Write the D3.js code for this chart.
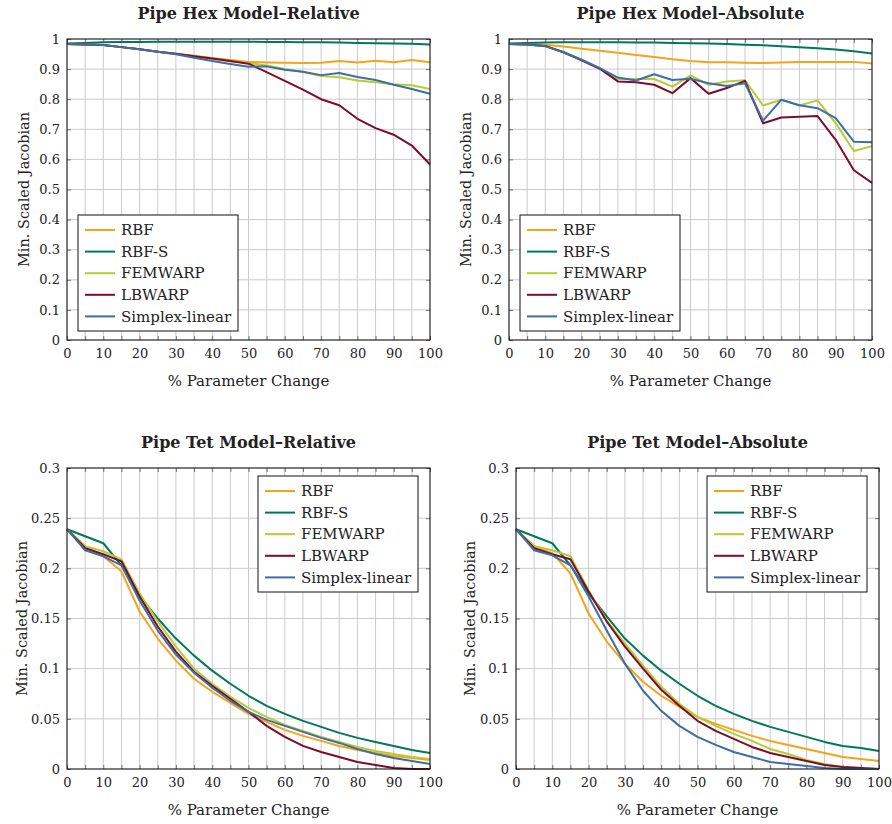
<!DOCTYPE html>
<html>
<head>
<meta charset="utf-8">
<script src="https://cdn.jsdelivr.net/npm/d3@7"></script>
<style>
    body { margin: 0; background: #fff; }
    text { font-family: "DejaVu Serif", serif; fill: #222; }
</style>
</head>
<body>
<script>
// x values (% parameter change)
const pct= [0,5,10,15,20,25,30,35,40,45,50,55,60,65,70,75,80,85,90,95,100]

const series_names= ["RBF", "RBF-S", "FEMWARP", "LBWARP", "Simplex-linear"]
const series_colors= ["#f5a31a", "#00785a", "#b7cb33", "#7b0c2c", "#3e6ea3"]

// pipe hex, relative
const hex_rel_rbf=  [0.983,0.982,0.980,0.973,0.966,0.958,0.951,0.944,0.937,0.930,0.924,0.922,0.921,0.920,0.921,0.927,0.922,0.928,0.923,0.930,0.923]
const hex_rel_rbfs= [0.985,0.987,0.989,0.990,0.990,0.991,0.991,0.991,0.991,0.991,0.991,0.990,0.990,0.989,0.989,0.988,0.987,0.986,0.985,0.984,0.982]
const hex_rel_fem=  [0.983,0.982,0.980,0.973,0.966,0.958,0.950,0.942,0.934,0.926,0.920,0.912,0.900,0.890,0.877,0.873,0.862,0.856,0.850,0.846,0.834]
const hex_rel_lb=   [0.983,0.982,0.980,0.973,0.966,0.958,0.951,0.943,0.935,0.927,0.918,0.890,0.861,0.832,0.800,0.780,0.735,0.704,0.682,0.646,0.583]
const hex_rel_simp= [0.983,0.982,0.980,0.973,0.966,0.958,0.949,0.938,0.927,0.917,0.908,0.909,0.898,0.891,0.880,0.887,0.874,0.864,0.848,0.834,0.818]

// pipe hex, absolute
const hex_abs_rbf=  [0.983,0.982,0.981,0.975,0.968,0.961,0.954,0.947,0.940,0.933,0.927,0.923,0.923,0.921,0.920,0.922,0.924,0.924,0.924,0.924,0.919]
const hex_abs_rbfs= [0.985,0.987,0.988,0.989,0.989,0.989,0.989,0.988,0.988,0.987,0.986,0.985,0.983,0.981,0.979,0.976,0.973,0.969,0.965,0.959,0.952]
const hex_abs_fem=  [0.983,0.982,0.977,0.957,0.931,0.903,0.867,0.867,0.867,0.842,0.879,0.848,0.859,0.863,0.779,0.798,0.779,0.796,0.720,0.628,0.644]
const hex_abs_lb=   [0.983,0.982,0.977,0.956,0.929,0.901,0.859,0.856,0.848,0.820,0.870,0.818,0.837,0.861,0.720,0.739,0.742,0.744,0.665,0.564,0.522]
const hex_abs_simp= [0.983,0.982,0.976,0.956,0.931,0.903,0.872,0.862,0.883,0.864,0.868,0.853,0.844,0.853,0.729,0.798,0.780,0.770,0.737,0.659,0.657]

// pipe tet, relative
const tet_rel_rbf=  [0.239,0.222,0.212,0.197,0.157,0.130,0.108,0.090,0.077,0.066,0.055,0.047,0.039,0.033,0.028,0.023,0.019,0.016,0.013,0.011,0.009]
const tet_rel_rbfs= [0.239,0.232,0.225,0.203,0.172,0.150,0.130,0.113,0.098,0.085,0.073,0.063,0.055,0.048,0.042,0.036,0.031,0.027,0.023,0.019,0.016]
const tet_rel_fem=  [0.239,0.222,0.217,0.209,0.175,0.147,0.122,0.100,0.085,0.072,0.061,0.052,0.044,0.038,0.032,0.027,0.022,0.018,0.015,0.012,0.010]
const tet_rel_lb=   [0.239,0.220,0.214,0.207,0.172,0.142,0.117,0.097,0.083,0.070,0.057,0.043,0.032,0.023,0.017,0.012,0.007,0.004,0.001,0.000,0.000]
const tet_rel_simp= [0.239,0.218,0.212,0.203,0.168,0.138,0.114,0.096,0.081,0.068,0.057,0.049,0.043,0.037,0.031,0.026,0.020,0.015,0.011,0.008,0.005]

// pipe tet, absolute
const tet_abs_rbf=  [0.239,0.222,0.215,0.195,0.155,0.127,0.105,0.087,0.073,0.062,0.052,0.045,0.039,0.033,0.028,0.024,0.020,0.016,0.012,0.010,0.008]
const tet_abs_rbfs= [0.239,0.232,0.225,0.203,0.175,0.152,0.130,0.113,0.098,0.085,0.073,0.063,0.055,0.048,0.042,0.037,0.032,0.027,0.023,0.021,0.018]
const tet_abs_fem=  [0.239,0.222,0.218,0.212,0.178,0.148,0.125,0.103,0.082,0.065,0.052,0.043,0.035,0.028,0.020,0.015,0.009,0.005,0.002,0.001,0.000]
const tet_abs_lb=   [0.239,0.220,0.214,0.209,0.177,0.147,0.122,0.100,0.079,0.063,0.048,0.038,0.030,0.022,0.016,0.012,0.008,0.004,0.002,0.001,0.000]
const tet_abs_simp= [0.239,0.218,0.213,0.203,0.172,0.138,0.105,0.078,0.058,0.043,0.032,0.024,0.017,0.012,0.007,0.005,0.003,0.001,0.000,0.000,0.000]

// tick labels
const x_ticks= [0,10,20,30,40,50,60,70,80,90,100]
const x_minor= [0,5,10,15,20,25,30,35,40,45,50,55,60,65,70,75,80,85,90,95,100]
const hex_y_ticks= [0,0.1,0.2,0.3,0.4,0.5,0.6,0.7,0.8,0.9,1]
const tet_y_ticks= [0,0.05,0.1,0.15,0.2,0.25,0.3]

const panels= [
    {title: "Pipe Hex Model\u2013Relative", data: [hex_rel_rbf, hex_rel_rbfs, hex_rel_fem, hex_rel_lb, hex_rel_simp],
     y_ticks: hex_y_ticks, box: [67, 39, 430, 340], legend: "bl", ylab_x: 24},
    {title: "Pipe Hex Model\u2013Absolute", data: [hex_abs_rbf, hex_abs_rbfs, hex_abs_fem, hex_abs_lb, hex_abs_simp],
     y_ticks: hex_y_ticks, box: [509, 39, 872, 340], legend: "bl", ylab_x: 466},
    {title: "Pipe Tet Model\u2013Relative", data: [tet_rel_rbf, tet_rel_rbfs, tet_rel_fem, tet_rel_lb, tet_rel_simp],
     y_ticks: tet_y_ticks, box: [67, 468, 430, 769], legend: "tr", ylab_x: 22},
    {title: "Pipe Tet Model\u2013Absolute", data: [tet_abs_rbf, tet_abs_rbfs, tet_abs_fem, tet_abs_lb, tet_abs_simp],
     y_ticks: tet_y_ticks, box: [516, 468, 879, 769], legend: "tr", ylab_x: 470},
]

const svg= d3.select("body").append("svg")
    .attr("width", 892)
    .attr("height", 824)

function draw_panel(p) {
    let [x0, y0, x1, y1]= p.box
    let x= d3.scaleLinear().domain([0, 100]).range([x0, x1])
    let y= d3.scaleLinear().domain([p.y_ticks[0], p.y_ticks[p.y_ticks.length-1]]).range([y1, y0])
    let g= svg.append("g")

    // grid
    g.append("g").selectAll("line").data(x_minor.slice(1, -1)).join("line")
        .attr("x1", d => x(d)).attr("x2", d => x(d))
        .attr("y1", y0).attr("y2", y1)
        .attr("stroke", "#cbcbcb").attr("stroke-width", 1)
    g.append("g").selectAll("line").data(p.y_ticks.slice(1, -1)).join("line")
        .attr("x1", x0).attr("x2", x1)
        .attr("y1", d => y(d)).attr("y2", d => y(d))
        .attr("stroke", "#cbcbcb").attr("stroke-width", 1)

    // inner tick marks on all four sides
    let tick_axes= [
        [d3.axisBottom(x).tickValues(x_minor), `translate(0,${y1})`],
        [d3.axisTop(x).tickValues(x_minor), `translate(0,${y0})`],
        [d3.axisLeft(y).tickValues(p.y_ticks), `translate(${x0},0)`],
        [d3.axisRight(y).tickValues(p.y_ticks), `translate(${x1},0)`],
    ]
    tick_axes.forEach(([ax, tr]) => {
        let a= g.append("g").attr("transform", tr)
            .call(ax.tickSize(-4).tickFormat(""))
        a.select(".domain").remove()
        a.selectAll("line").attr("stroke", "#555").attr("stroke-width", 0.8)
    })

    // tick labels
    let xl= g.append("g").attr("transform", `translate(0,${y1})`)
        .call(d3.axisBottom(x).tickValues(x_ticks).tickSize(0).tickPadding(9).tickFormat(d3.format("d")))
    let yl= g.append("g").attr("transform", `translate(${x0},0)`)
        .call(d3.axisLeft(y).tickValues(p.y_ticks).tickSize(0).tickPadding(7).tickFormat(d => String(+d.toFixed(2))))
    ;[xl, yl].forEach(a => {
        a.select(".domain").remove()
        a.selectAll("text").attr("font-family", "DejaVu Serif").attr("font-size", 13).attr("fill", "#222")
    })

    // series
    let line= d3.line().x((d, i) => x(pct[i])).y(d => y(d))
    p.data.forEach((vals, k) => {
        g.append("path").datum(vals)
            .attr("d", line)
            .attr("fill", "none")
            .attr("stroke", series_colors[k])
            .attr("stroke-width", 2)
            .attr("stroke-linejoin", "round")
    })

    // frame
    g.append("rect")
        .attr("x", x0).attr("y", y0)
        .attr("width", x1-x0).attr("height", y1-y0)
        .attr("fill", "none").attr("stroke", "#111").attr("stroke-width", 1.1)

    // titles
    g.append("text")
        .attr("x", (x0+x1)/2).attr("y", y0-20)
        .attr("text-anchor", "middle")
        .attr("font-size", 16).attr("font-weight", "bold")
        .text(p.title)
    g.append("text")
        .attr("x", (x0+x1)/2).attr("y", y1+46)
        .attr("text-anchor", "middle")
        .attr("font-size", 15)
        .text("% Parameter Change")
    g.append("text")
        .attr("transform", `translate(${p.ylab_x},${(y0+y1)/2}) rotate(-90)`)
        .attr("text-anchor", "middle")
        .attr("dy", "0.35em")
        .attr("font-size", 14.5)
        .text("Min. Scaled Jacobian")

    // legend
    let lw= 160, lh= 116
    let lx= p.legend == "bl" ? x0+11 : x1-12-lw
    let ly= p.legend == "bl" ? y1-9-lh : y0+8
    let leg= g.append("g").attr("transform", `translate(${lx},${ly})`)
    leg.append("rect")
        .attr("width", lw).attr("height", lh)
        .attr("fill", "#fff").attr("stroke", "#111").attr("stroke-width", 1)
    series_names.forEach((name, k) => {
        let row_y= 15 + k*21.6
        leg.append("line")
            .attr("x1", 7).attr("x2", 37)
            .attr("y1", row_y).attr("y2", row_y)
            .attr("stroke", series_colors[k]).attr("stroke-width", 2)
        leg.append("text")
            .attr("x", 43).attr("y", row_y)
            .attr("dy", "0.35em")
            .attr("font-size", 15)
            .text(name)
    })
}

panels.forEach(draw_panel)
</script>
</body>
</html>
